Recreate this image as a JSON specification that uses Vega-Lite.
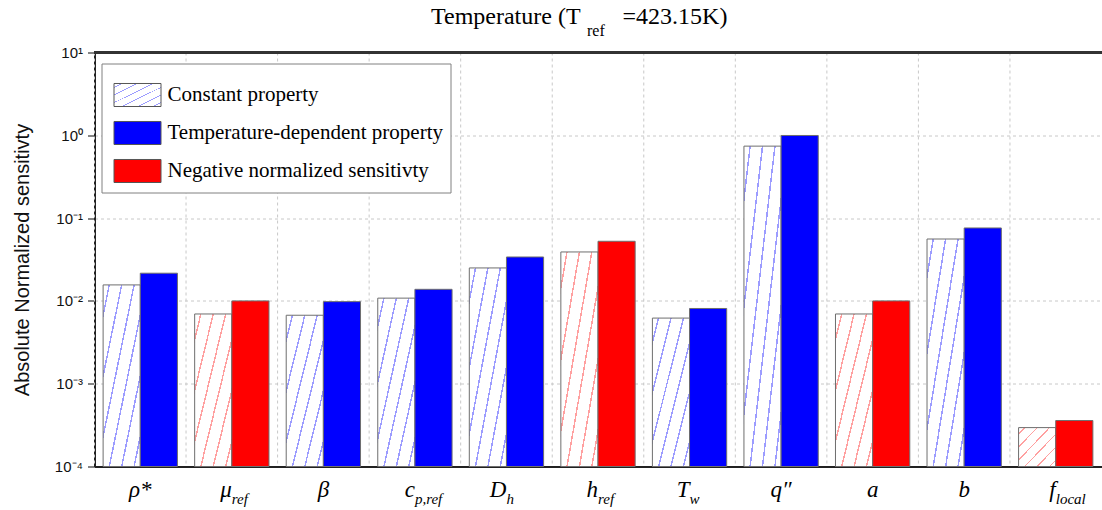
{
  "$schema": "https://vega.github.io/schema/vega-lite/v6.json",
  "width": 1007,
  "height": 414,
  "autosize": {"type": "none"},
  "padding": {"left": 94.5, "top": 52.5, "right": 0, "bottom": 43.5},
  "background": "white",
  "config": {"view": {"stroke": null}},
  "title": {
    "text": "Temperature (T\u00a0\u00a0\u00a0\u00a0\u00a0\u00a0\u00a0=423.15K)",
    "subtitle": "\u200b\u00a0\u00a0\u00a0\u00a0\u00a0\u00a0\u00a0\u00a0\u00a0\u00a0\u00a0\u00a0\u00a0\u00a0\u00a0\u00a0\u00a0\u00a0\u00a0\u00a0\u00a0\u00a0\u00a0\u00a0\u00a0\u00a0\u00a0\u00a0\u00a0\u00a0\u00a0\u00a0\u00a0\u00a0\u00a0\u00a0\u00a0\u00a0\u00a0ref",
    "anchor": "start",
    "frame": "group",
    "dx": 336.5,
    "font": "Liberation Serif",
    "fontSize": 24,
    "fontWeight": "normal",
    "color": "black",
    "subtitleFont": "Liberation Serif",
    "subtitleFontSize": 16,
    "subtitleColor": "black",
    "subtitlePadding": -6,
    "offset": 7
  },
  "datasets": {
    "bars": [
      {"param": "ρ*", "kind": "const", "series": "Constant property", "value": 0.0156},
      {"param": "ρ*", "kind": "temp", "series": "Temperature-dependent property", "value": 0.0216},
      {"param": "μ_ref", "kind": "const", "series": "Constant property (negative)", "value": 0.00695},
      {"param": "μ_ref", "kind": "temp", "series": "Negative normalized sensitivty", "value": 0.0100},
      {"param": "β", "kind": "const", "series": "Constant property", "value": 0.00671},
      {"param": "β", "kind": "temp", "series": "Temperature-dependent property", "value": 0.0098},
      {"param": "c_p,ref", "kind": "const", "series": "Constant property", "value": 0.0108},
      {"param": "c_p,ref", "kind": "temp", "series": "Temperature-dependent property", "value": 0.0138},
      {"param": "D_h", "kind": "const", "series": "Constant property", "value": 0.0250},
      {"param": "D_h", "kind": "temp", "series": "Temperature-dependent property", "value": 0.0339},
      {"param": "h_ref", "kind": "const", "series": "Constant property (negative)", "value": 0.0390},
      {"param": "h_ref", "kind": "temp", "series": "Negative normalized sensitivty", "value": 0.0525},
      {"param": "T_w", "kind": "const", "series": "Constant property", "value": 0.0062},
      {"param": "T_w", "kind": "temp", "series": "Temperature-dependent property", "value": 0.0081},
      {"param": "q″", "kind": "const", "series": "Constant property", "value": 0.74},
      {"param": "q″", "kind": "temp", "series": "Temperature-dependent property", "value": 0.995},
      {"param": "a", "kind": "const", "series": "Constant property (negative)", "value": 0.00695},
      {"param": "a", "kind": "temp", "series": "Negative normalized sensitivty", "value": 0.0100},
      {"param": "b", "kind": "const", "series": "Constant property", "value": 0.0559},
      {"param": "b", "kind": "temp", "series": "Temperature-dependent property", "value": 0.076},
      {"param": "f_local", "kind": "const", "series": "Constant property (negative)", "value": 0.000295},
      {"param": "f_local", "kind": "temp", "series": "Negative normalized sensitivty", "value": 0.000359}
    ],
    "labels": [
      {"param": "ρ*", "base": "ρ*", "sub": ""},
      {"param": "μ_ref", "base": "μ", "sub": "ref"},
      {"param": "β", "base": "β", "sub": ""},
      {"param": "c_p,ref", "base": "c", "sub": "p,ref"},
      {"param": "D_h", "base": "D", "sub": "h"},
      {"param": "h_ref", "base": "h", "sub": "ref"},
      {"param": "T_w", "base": "T", "sub": "w"},
      {"param": "q″", "base": "q″", "sub": ""},
      {"param": "a", "base": "a", "sub": ""},
      {"param": "b", "base": "b", "sub": ""},
      {"param": "f_local", "base": "f", "sub": "local"}
    ]
  },
  "data": {"name": "bars"},
  "layer": [
    {
      "transform": [{"filter": "datum.kind == 'temp'"}],
      "mark": {"type": "rule", "color": "#c8c8c8", "strokeWidth": 1, "strokeDash": [3, 3]},
      "encoding": {
        "x": {"field": "param", "type": "nominal", "bandPosition": 0}
      }
    },
    {
      "transform": [{"filter": "datum.series == 'Constant property'"}],
      "mark": {"type": "bar", "stroke": "#6e6e6e", "strokeWidth": 1,
        "fill": {"gradient": "linear", "x1": 0, "y1": 0, "x2": 1, "y2": 1, "stops": [
          {"offset": 0, "color": "white"},
          {"offset": 0.073, "color": "white"}, {"offset": 0.073, "color": "#9c9cff"}, {"offset": 0.093, "color": "#9c9cff"}, {"offset": 0.093, "color": "white"},
          {"offset": 0.24, "color": "white"}, {"offset": 0.24, "color": "#9c9cff"}, {"offset": 0.26, "color": "#9c9cff"}, {"offset": 0.26, "color": "white"},
          {"offset": 0.407, "color": "white"}, {"offset": 0.407, "color": "#9c9cff"}, {"offset": 0.427, "color": "#9c9cff"}, {"offset": 0.427, "color": "white"},
          {"offset": 0.573, "color": "white"}, {"offset": 0.573, "color": "#9c9cff"}, {"offset": 0.593, "color": "#9c9cff"}, {"offset": 0.593, "color": "white"},
          {"offset": 0.74, "color": "white"}, {"offset": 0.74, "color": "#9c9cff"}, {"offset": 0.76, "color": "#9c9cff"}, {"offset": 0.76, "color": "white"},
          {"offset": 0.907, "color": "white"}, {"offset": 0.907, "color": "#9c9cff"}, {"offset": 0.927, "color": "#9c9cff"}, {"offset": 0.927, "color": "white"},
          {"offset": 1, "color": "white"}
        ]}
      },
      "encoding": {
        "x": {"field": "param", "type": "nominal"},
        "xOffset": {"field": "kind", "type": "nominal"},
        "y": {"field": "value", "type": "quantitative"},
        "y2": {"datum": 0.0001}
      }
    },
    {
      "transform": [{"filter": "datum.series == 'Constant property (negative)'"}],
      "mark": {"type": "bar", "stroke": "#6e6e6e", "strokeWidth": 1,
        "fill": {"gradient": "linear", "x1": 0, "y1": 0, "x2": 1, "y2": 1, "stops": [
          {"offset": 0, "color": "white"},
          {"offset": 0.073, "color": "white"}, {"offset": 0.073, "color": "#ffa0a0"}, {"offset": 0.093, "color": "#ffa0a0"}, {"offset": 0.093, "color": "white"},
          {"offset": 0.24, "color": "white"}, {"offset": 0.24, "color": "#ffa0a0"}, {"offset": 0.26, "color": "#ffa0a0"}, {"offset": 0.26, "color": "white"},
          {"offset": 0.407, "color": "white"}, {"offset": 0.407, "color": "#ffa0a0"}, {"offset": 0.427, "color": "#ffa0a0"}, {"offset": 0.427, "color": "white"},
          {"offset": 0.573, "color": "white"}, {"offset": 0.573, "color": "#ffa0a0"}, {"offset": 0.593, "color": "#ffa0a0"}, {"offset": 0.593, "color": "white"},
          {"offset": 0.74, "color": "white"}, {"offset": 0.74, "color": "#ffa0a0"}, {"offset": 0.76, "color": "#ffa0a0"}, {"offset": 0.76, "color": "white"},
          {"offset": 0.907, "color": "white"}, {"offset": 0.907, "color": "#ffa0a0"}, {"offset": 0.927, "color": "#ffa0a0"}, {"offset": 0.927, "color": "white"},
          {"offset": 1, "color": "white"}
        ]}
      },
      "encoding": {
        "x": {"field": "param", "type": "nominal"},
        "xOffset": {"field": "kind", "type": "nominal"},
        "y": {"field": "value", "type": "quantitative"},
        "y2": {"datum": 0.0001}
      }
    },
    {
      "transform": [{"filter": "datum.kind == 'temp'"}],
      "mark": {"type": "bar", "stroke": "#6e6e6e", "strokeWidth": 1},
      "encoding": {
        "x": {
          "field": "param", "type": "nominal",
          "scale": {"domain": ["ρ*", "μ_ref", "β", "c_p,ref", "D_h", "h_ref", "T_w", "q″", "a", "b", "f_local"], "paddingInner": 0, "paddingOuter": 0},
          "axis": {
            "orient": "bottom", "title": null, "ticks": false, "labels": false, "grid": false,
            "domainColor": "#222", "domainWidth": 2
          }
        },
        "xOffset": {"field": "kind", "type": "nominal", "scale": {"domain": ["const", "temp"], "paddingInner": 0, "paddingOuter": 0.232}},
        "y": {
          "field": "value", "type": "quantitative",
          "scale": {"type": "log", "domain": [0.0001, 10], "nice": false},
          "axis": {
            "orient": "left",
            "values": [0.0001, 0.001, 0.01, 0.1, 1, 10],
            "labelExpr": "'10' + ['⁻⁴','⁻³','⁻²','⁻¹','⁰','¹'][round(log(datum.value)/LN10)+4]",
            "grid": true, "gridDash": [3, 3], "gridColor": "#c8c8c8", "gridWidth": 1,
            "tickSize": 7, "tickColor": "#333", "tickWidth": 1.2,
            "domainColor": "#222", "domainWidth": 2,
            "labelFont": "Liberation Sans", "labelFontSize": 15, "labelColor": "#111", "labelPadding": 5,
            "title": "Absolute Normalized sensitivty",
            "titleFont": "Liberation Sans", "titleFontSize": 20, "titleFontWeight": "normal", "titleColor": "#111",
            "titlePadding": 22
          }
        },
        "y2": {"datum": 0.0001},
        "fill": {
          "field": "series", "type": "nominal",
          "scale": {
            "domain": ["Constant property", "Temperature-dependent property", "Negative normalized sensitivty"],
            "range": ["url(#gradient_0)", "#0000ff", "#ff0000"]
          },
          "legend": {
            "title": null, "orient": "none", "legendX": 7, "legendY": 11,
            "symbolType": "M-1,-0.49H1V0.49H-1Z", "symbolSize": 2209,
            "symbolStrokeColor": "#555", "symbolStrokeWidth": 1,
            "labelFont": "Liberation Serif", "labelFontSize": 21, "labelColor": "black",
            "labelOffset": 6, "rowPadding": -21, "padding": 7.5, "symbolOffset": 4.5,
            "strokeColor": "#808080", "fillColor": "white", "labelLimit": 400
          }
        }
      }
    },
    {
      "data": {"name": "labels"},
      "transform": [{"filter": "datum.sub == ''"}],
      "mark": {"type": "text", "align": "center", "baseline": "alphabetic", "dy": 30, "font": "Liberation Serif", "fontStyle": "italic", "fontSize": 23, "color": "black"},
      "encoding": {
        "x": {"field": "param", "type": "nominal"},
        "y": {"datum": 0.0001, "type": "quantitative"},
        "text": {"field": "base"}
      }
    },
    {
      "data": {"name": "labels"},
      "transform": [{"filter": "datum.sub != ''"}],
      "mark": {"type": "text", "align": "right", "baseline": "alphabetic", "dy": 30, "font": "Liberation Serif", "fontStyle": "italic", "fontSize": 23, "color": "black"},
      "encoding": {
        "x": {"field": "param", "type": "nominal"},
        "y": {"datum": 0.0001, "type": "quantitative"},
        "text": {"field": "base"}
      }
    },
    {
      "data": {"name": "labels"},
      "transform": [{"filter": "datum.sub != ''"}],
      "mark": {"type": "text", "align": "left", "baseline": "alphabetic", "dy": 37, "font": "Liberation Serif", "fontStyle": "italic", "fontSize": 15, "color": "black"},
      "encoding": {
        "x": {"field": "param", "type": "nominal"},
        "y": {"datum": 0.0001, "type": "quantitative"},
        "text": {"field": "sub"}
      }
    },
    {
      "mark": {"type": "rule", "color": "#333", "strokeWidth": 2},
      "encoding": {
        "y": {"datum": 10, "type": "quantitative"}
      }
    }
  ]
}
